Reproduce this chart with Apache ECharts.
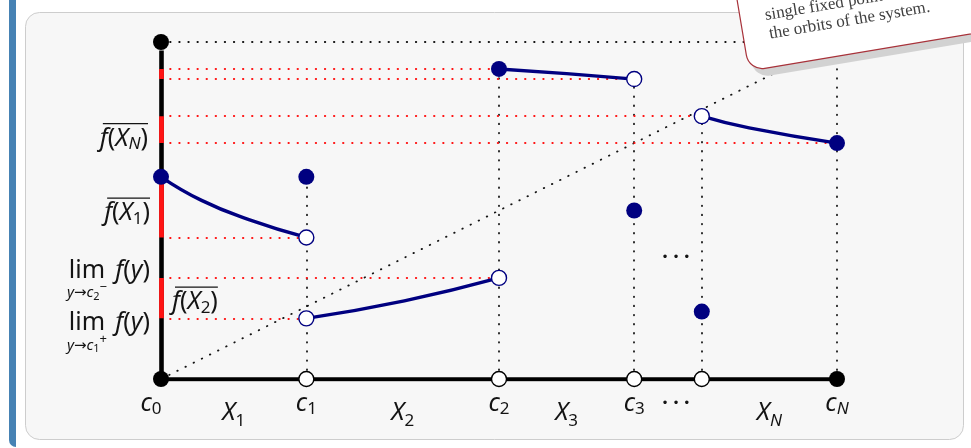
<!DOCTYPE html>
<html>
<head>
<meta charset="utf-8">
<script src="https://cdn.jsdelivr.net/npm/echarts@6/dist/echarts.min.js"></script>
<style>
  html, body { margin: 0; padding: 0; background: #ffffff; }
  #chart { width: 971px; height: 448px; }
</style>
</head>
<body>
<div id="chart"></div>
<script>
// Partition points c0 … cN of the interval (x), the unnamed one before cN is c4
const cuts = [0, 0.215, 0.5, 0.7, 0.8, 1];
const cutNames = ['0', '1', '2', '3', null, 'N'];
const topValue = 1;

// Graph of f on each piece X1, X2, X3, XN
const pieceX1 = [[0, 0.6], [0.06, 0.53], [0.13, 0.473], [0.215, 0.42]];
const pieceX2 = [[0.215, 0.18], [0.36, 0.232], [0.5, 0.30]];
const pieceX3 = [[0.5, 0.92], [0.6, 0.906], [0.7, 0.89]];
const pieceXN = [[0.8, 0.78], [0.87, 0.745], [1, 0.70]];

// Attained values (filled) and one-sided limits (hollow)
const closedPts = [[0, 0.6], [0.215, 0.6], [0.5, 0.92], [0.7, 0.5], [0.8, 0.2], [1, 0.7]];
const openPts = [[0.215, 0.42], [0.215, 0.18], [0.5, 0.30], [0.7, 0.89], [0.8, 0.78]];

// Closures of the images f(X_i) on the vertical axis: [low, high]
const imageBands = [[0.89, 0.92], [0.70, 0.78], [0.42, 0.60], [0.18, 0.30]];
// Horizontal guides: [level, reach on x]
const levelGuides = [[0.92, 0.5], [0.89, 0.7], [0.78, 0.8], [0.70, 1], [0.42, 0.215], [0.30, 0.5], [0.18, 0.215]];
// Vertical guides: [x, height]
const cutGuides = [[0.215, 0.6], [0.5, 0.92], [0.7, 0.89], [0.8, 0.78], [1, 1]];

const NAVY = '#000080';
const RED = '#ff1414';
const INK = '#141414';
const FAM = '"Noto Sans", "DejaVu Sans", sans-serif';

const chart = echarts.init(document.getElementById('chart'), null, { renderer: 'canvas' });

const dotted = (color) => ({ color: color, width: 1.8, type: [0.5, 8.6], cap: 'round', opacity: 1 });
const seg = (a, b) => ({ coords: [a, b] });

const curve = (data) => ({
  type: 'line', data: data, smooth: 0.5, symbol: 'none', z: 4,
  lineStyle: { color: NAVY, width: 3.4, cap: 'round' }, silent: true
});

chart.setOption({
  animation: false,
  backgroundColor: '#ffffff',
  grid: { left: 161, right: 134, top: 42, bottom: 69 },
  xAxis: { type: 'value', min: 0, max: 1, show: false },
  yAxis: { type: 'value', min: 0, max: 1, show: false },
  series: [
    { // diagonal y = x, top line and vertical guides
      type: 'lines', coordinateSystem: 'cartesian2d', polyline: false, z: 1, silent: true,
      lineStyle: dotted(INK),
      data: [seg([0, 0], [1, topValue]), seg([0, topValue], [1, topValue])]
        .concat(cutGuides.map(([x, h]) => seg([x, 0], [x, h])))
    },
    { // horizontal guides to the vertical axis
      type: 'lines', coordinateSystem: 'cartesian2d', polyline: false, z: 1, silent: true,
      lineStyle: dotted(RED),
      data: levelGuides.map(([y, x]) => seg([0, y], [x, y]))
    },
    { // the two axes
      type: 'lines', coordinateSystem: 'cartesian2d', polyline: false, z: 2, silent: true,
      lineStyle: { color: '#000', width: 4.6, type: 'solid', opacity: 1 },
      data: [seg([cuts[0], 0], [cuts[cuts.length - 1], 0]), seg([0, 0], [0, topValue - 0.025])]
    },
    { // image closures on the vertical axis
      type: 'lines', coordinateSystem: 'cartesian2d', polyline: false, z: 3, silent: true,
      lineStyle: { color: RED, width: 4.8, type: 'solid', cap: 'butt', opacity: 1 },
      data: imageBands.map(([a, b]) => seg([0, a], [0, b]))
    },
    curve(pieceX1), curve(pieceX2), curve(pieceX3), curve(pieceXN),
    {
      type: 'scatter', data: closedPts, symbol: 'circle', symbolSize: 16, z: 5, silent: true,
      itemStyle: { color: NAVY, opacity: 1 }
    },
    {
      type: 'scatter', data: openPts, symbol: 'circle', symbolSize: 15, z: 5, silent: true,
      itemStyle: { color: '#ffffff', borderColor: NAVY, borderWidth: 1.4, opacity: 1 }
    },
    {
      type: 'scatter', symbol: 'circle', symbolSize: 16, z: 5, silent: true,
      data: [[cuts[0], 0], [cuts[cuts.length - 1], 0], [0, topValue]],
      itemStyle: { color: '#000', opacity: 1 }
    },
    {
      type: 'scatter', symbol: 'circle', symbolSize: 15, z: 5, silent: true,
      data: cuts.slice(1, -1).map(c => [c, 0]),
      itemStyle: { color: '#ffffff', borderColor: '#000', borderWidth: 1.4, opacity: 1 }
    }
  ]
});

// ---------- text labels (math-like composition of tokens) ----------
const MAIN = 25, SUB = 17;
const mctx = document.createElement('canvas').getContext('2d');
function tokFont(k) { return (k.it ? 'italic ' : '') + (k.bold ? 'bold ' : '') + k.size + 'px ' + (k.fam || FAM); }
function tokWidth(k) { mctx.font = tokFont(k); return mctx.measureText(k.t).width; }
const I = (t, size = MAIN, dy = 0, gap = 0) => ({ t, size, dy, gap, it: true });
const R = (t, size = MAIN, dy = 0, gap = 0) => ({ t, size, dy, gap, it: false });

const els = [];
function place(tokens, x, y, align) {
  const ws = tokens.map(tokWidth);
  const total = tokens.reduce((s, k, i) => s + ws[i] + k.gap, 0);
  let cx = align === 'right' ? x - total : align === 'center' ? x - total / 2 : x;
  const left = cx;
  tokens.forEach((k, i) => {
    cx += k.gap;
    els.push({
      type: 'text', x: cx, y: y + k.dy, z: 50, silent: true,
      style: {
        text: k.t, fontSize: k.size, fontStyle: k.it ? 'italic' : 'normal',
        fontWeight: k.bold ? 'bold' : 'normal',
        fontFamily: k.fam || FAM, fill: INK, align: 'left', verticalAlign: 'middle'
      }
    });
    cx += ws[i];
  });
  return { left: left, right: cx };
}
function overline(box, y) {
  els.push({
    type: 'line', z: 50, silent: true,
    shape: { x1: box.left + 3, y1: y, x2: box.right, y2: y },
    style: { stroke: INK, lineWidth: 1.3 }
  });
}

const px = (p) => chart.convertToPixel({ gridIndex: 0 }, p);
const origin = px([0, 0]);
const axisX = origin[0], axisY = origin[1];
const cx = (c) => px([c, 0])[0];
const cy = (v) => px([0, v])[1];

// c_i under the horizontal axis
cuts.forEach((c, i) => {
  if (cutNames[i] === null) return;
  const sub = cutNames[i] === 'N' ? I('N', SUB, 5) : R(cutNames[i], SUB, 5);
  place([I('c'), sub], cx(c) + (i === 0 ? -10 : 0), axisY + 25, 'center');
});
// pieces X_i between partition points
[[0, 1, '1'], [1, 2, '2'], [2, 3, '3'], [4, 5, 'N']].forEach(([a, b, n]) => {
  const sub = n === 'N' ? I('N', SUB, 8) : R(n, SUB, 8);
  place([I('X'), sub], (cx(cuts[a]) + cx(cuts[b])) / 2, axisY + 34, 'center');
});
// ellipses
const dotsX = (cx(cuts[3]) + cx(cuts[4])) / 2 + 8;
const ell = { t: '• • •', size: 12, dy: 0, gap: 0, it: false, fam: '"DejaVu Sans", sans-serif' };
place([ell], dotsX, axisY + 25, 'center');
place([ell], dotsX, cy((imageBands[3][1] + imageBands[2][0]) / 2), 'center');

// closures of images on the vertical axis
const yN = cy((imageBands[1][0] + imageBands[1][1]) / 2) + 9;
const bN = place([I('f'), R('('), I('X'), I('N', SUB, 6), R(')')], axisX - 13, yN, 'right');
overline(bN, yN - 15);

const y1 = cy((imageBands[2][0] + imageBands[2][1]) / 2) + 6;
const b1 = place([I('f'), R('('), I('X'), R('1', SUB, 6), R(')')], axisX - 11, y1, 'right');
overline(b1, y1 - 15);

const y2 = cy((imageBands[3][0] + imageBands[3][1]) / 2) + 4;
const b2 = place([I('f'), R('('), I('X'), R('2', SUB, 6), R(')')], axisX + 11, y2, 'left');
overline(b2, y2 - 15);

// one-sided limits
function limit(level, dy, digit, sign) {
  const yMain = cy(level) + dy;
  place([R('lim')], axisX - 74, yMain, 'center');
  place([I('f'), R('('), I('y'), R(')')], axisX - 11, yMain, 'right');
  place([I('y', 15), R('→', 15), I('c', 15), R(digit, 11, 4), R(sign, 13, -6)],
    axisX - 74, yMain + 22, 'center');
}
limit(0.30, -7, '2', '−');
limit(0.18, 5, '1', '+');

// ---------- surroundings: panel, side bar, note card ----------
const frame = [
  { type: 'rect', z: -2, silent: true, shape: { x: 9, y: -12, width: 7, height: 459, r: [0, 0, 0, 9] },
    style: { fill: '#4682b4' } },
  { type: 'rect', z: -1, silent: true, shape: { x: 25.5, y: 12.5, width: 938, height: 427, r: 14 },
    style: { fill: '#f7f7f7', stroke: '#cdcdcd', lineWidth: 1 } }
];

const noteFont = { fontFamily: '"Liberation Serif", serif', fontSize: 17, fill: '#404040',
  verticalAlign: 'middle', align: 'left' };
const card = {
  type: 'group', x: 749, y: 71, rotation: 0.166, z: 100,
  children: [
    { type: 'rect', z: 100, silent: true, shape: { x: 4, y: -192, width: 340, height: 200, r: 16 },
      style: { fill: '#d2d2d2' } },
    { type: 'rect', z: 101, silent: true, shape: { x: 0, y: -200, width: 340, height: 200, r: 16 },
      style: { fill: '#ffffff', stroke: '#a8323a', lineWidth: 1.2 } },
    { type: 'text', z: 102, silent: true, x: 25, y: -52,
      style: Object.assign({ text: 'single fixed point' }, noteFont) },
    { type: 'text', z: 102, silent: true, x: 26, y: -33,
      style: Object.assign({ text: 'the orbits of the system.' }, noteFont) }
  ]
};

chart.setOption({ graphic: { elements: frame.concat(els).concat([card]) } });
</script>
</body>
</html>
